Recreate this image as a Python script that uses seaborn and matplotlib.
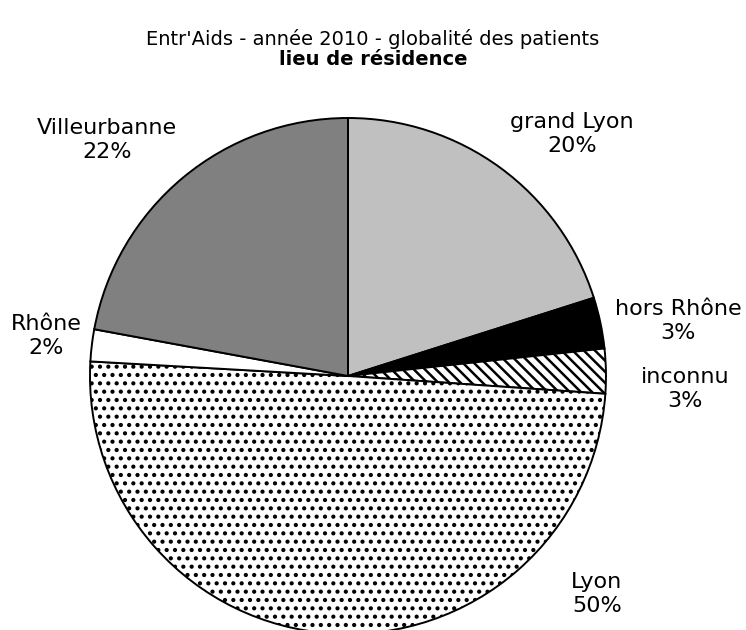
import matplotlib
matplotlib.use("Agg")
import matplotlib.pyplot as plt
import seaborn as sns

# Data (percentages of patients)
categories = ["grand Lyon", "hors Rhône", "inconnu", "Lyon", "Rhône", "Villeurbanne"]
shares = [20.1, 3.2, 2.8, 49.8, 2.0, 22.1]
pct_labels = ["20%", "3%", "3%", "50%", "2%", "22%"]

# Styling per slice
fills = ["#c0c0c0", "#000000", "#ffffff", "#ffffff", "#ffffff", "#808080"]
hatches = [None, None, "\\\\\\", "..", None, None]
# label placement (radius units, Excel-like positions)
label_pos = [(0.868, 0.938), (1.279, 0.213), (1.306, -0.050),
             (0.965, -0.845), (-1.171, 0.155), (-0.934, 0.915)]

sns.set_theme(style="white")
plt.rcParams["font.family"] = ["DejaVu Sans"]
plt.rcParams["hatch.color"] = "black"
plt.rcParams["hatch.linewidth"] = 1.8

fig = plt.figure(figsize=(7.46, 6.3), dpi=100)
ax = fig.add_axes([0.1206, -0.0063, 0.6917, 0.819])

wedges, _ = ax.pie(shares, startangle=90, counterclock=False, colors=fills,
                   wedgeprops=dict(edgecolor="black", linewidth=1.4))
for w, h in zip(wedges, hatches):
    if h:
        w.set_hatch(h)

for name, pct, (x, y) in zip(categories, pct_labels, label_pos):
    ax.text(x, y, f"{name}\n{pct}", ha="center", va="center",
            fontsize=16, linespacing=1.25, color="black")

ax.set_xlim(-1, 1)
ax.set_ylim(-1, 1)
ax.set_aspect("equal")
ax.axis("off")

fig.text(0.5, 0.938, "Entr'Aids - année 2010 - globalité des patients",
         ha="center", va="center", fontsize=14, color="black")
fig.text(0.5, 0.906, "lieu de résidence", ha="center", va="center",
         fontsize=14, fontweight="bold", color="black")

fig.savefig("out.png", dpi=100)
